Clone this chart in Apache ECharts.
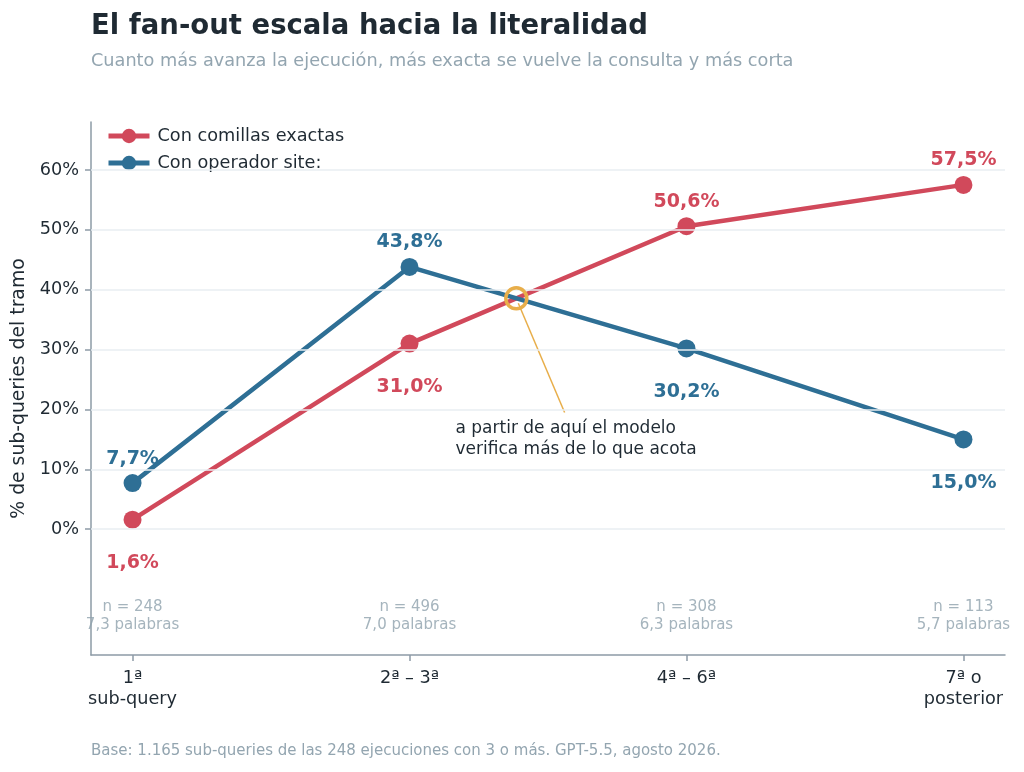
<!DOCTYPE html>
<html>
<head>
<meta charset="utf-8">
<title>El fan-out escala hacia la literalidad</title>
<script src="https://cdn.jsdelivr.net/npm/echarts@6/dist/echarts.min.js"></script>
<style>
    html, body {margin:0; padding:0; background:#ffffff;}
    #chart {width:1024px; height:772px;}
</style>
</head>
<body>
<div id="chart"></div>
<script>
// datos por tramo de sub-query
var tramos = ['1ª\nsub-query', '2ª – 3ª', '4ª – 6ª', '7ª o\nposterior'];
var comillas = [1.6, 31.0, 50.6, 57.5];
var site = [7.7, 43.8, 30.2, 15.0];
var nSub = [248, 496, 308, 113];
var palabras = [7.3, 7.0, 6.3, 5.7];
var yTicks = [0, 10, 20, 30, 40, 50, 60];

var ROJO = '#d1495b', AZUL = '#2e6f95', NARANJA = '#e8ae4a';
var OSCURO = '#1f2a33', GRIS = '#93a5b0', EJE = '#8d9ba6';
var FONT = 'DejaVu Sans';

function pct(v) { return v.toFixed(1).replace('.', ',') + '%'; }

// etiqueta arriba si la serie va por encima de la otra
function puntos(vals, otra) {
    return vals.map(function (v, i) {
        var arriba = v > otra[i];
        return {
            value: [i, v],
            label: {position: arriba ? 'top' : 'bottom', distance: arriba ? 6 : 25}
        };
    });
}

// cruce de las dos series
var cruce = null;
for (var i = 0; i < comillas.length - 1; i++) {
    var d0 = comillas[i] - site[i], d1 = comillas[i + 1] - site[i + 1];
    if (d0 < 0 && d1 >= 0) {
        var t = d0 / (d0 - d1);
        cruce = [i + t, comillas[i] + t * (comillas[i + 1] - comillas[i])];
        break;
    }
}

var myChart = echarts.init(document.getElementById('chart'));

var serieLinea = function (name, vals, otra, color) {
    return {
        name: name,
        type: 'line',
        data: puntos(vals, otra),
        color: color,
        symbol: 'circle',
        symbolSize: 18,
        z: 3,
        lineStyle: {width: 4.5, color: color},
        itemStyle: {color: color},
        label: {
            show: true,
            fontFamily: FONT, fontSize: 19, fontWeight: 'bold', color: color,
            formatter: function (p) { return pct(p.value[1]); }
        },
        emphasis: {disabled: true}
    };
};

var option = {
    backgroundColor: '#ffffff',
    animation: false,
    textStyle: {fontFamily: FONT},
    title: [{
        text: 'El fan-out escala hacia la literalidad',
        left: 91, top: 13, padding: 0,
        textStyle: {fontFamily: FONT, fontSize: 27.5, fontWeight: 'bold', color: OSCURO}
    }, {
        text: 'Cuanto más avanza la ejecución, más exacta se vuelve la consulta y más corta',
        left: 91, top: 52, padding: 0,
        textStyle: {fontFamily: FONT, fontSize: 17.7, fontWeight: 'normal', color: GRIS}
    }, {
        text: 'Base: 1.165 sub-queries de las 248 ejecuciones con 3 o más. GPT-5.5, agosto 2026.',
        left: 91, top: 744, padding: 0,
        textStyle: {fontFamily: FONT, fontSize: 15, fontWeight: 'normal', color: GRIS}
    }],
    legend: {
        orient: 'vertical',
        left: 106, top: 127, padding: 0,
        itemWidth: 41, itemHeight: 18, itemGap: 9,
        data: ['Con comillas exactas', 'Con operador site:'],
        lineStyle: {width: 5},
        textStyle: {fontFamily: FONT, fontSize: 17.7, color: OSCURO, padding: [0, 0, 0, 3]}
    },
    grid: {left: 91, right: 19, top: 122, bottom: 117},
    xAxis: {
        type: 'value',
        min: -0.15, max: 3.15,
        splitLine: {show: false},
        axisLine: {show: true, onZero: false, lineStyle: {color: EJE, width: 1.5}},
        axisTick: {show: true, customValues: [0, 1, 2, 3], length: 6, lineStyle: {color: EJE, width: 1.5}},
        axisLabel: {
            customValues: [0, 1, 2, 3],
            margin: 13,
            fontFamily: FONT, fontSize: 17.7, color: OSCURO, lineHeight: 21,
            formatter: function (v) { return tramos[Math.round(v)]; }
        }
    },
    yAxis: {
        type: 'value',
        min: -21, max: 68,
        name: '% de sub-queries del tramo',
        nameLocation: 'middle',
        nameGap: 62,
        nameTextStyle: {fontFamily: FONT, fontSize: 18.8, color: OSCURO},
        splitLine: {show: false},
        axisLine: {show: true, onZero: false, lineStyle: {color: EJE, width: 1.5}},
        axisTick: {show: true, customValues: yTicks, length: 6, lineStyle: {color: EJE, width: 1.5}},
        axisLabel: {
            customValues: yTicks,
            margin: 12,
            fontFamily: FONT, fontSize: 17.7, color: OSCURO,
            formatter: function (v) { return v + '%'; }
        }
    },
    series: [
        {
            // n y palabras por tramo, más las líneas de referencia
            type: 'scatter',
            silent: true,
            z: 1,
            symbolSize: 0,
            data: nSub.map(function (n, i) { return [i, -14.5]; }),
            label: {
                show: true,
                position: 'inside',
                fontFamily: FONT, fontSize: 15, color: '#8fa1ac', lineHeight: 18,
                formatter: function (p) {
                    var i = p.dataIndex;
                    return 'n = ' + nSub[i] + '\n' + palabras[i].toFixed(1).replace('.', ',') + ' palabras';
                }
            },
            markLine: {
                silent: true,
                symbol: 'none',
                label: {show: false},
                lineStyle: {color: '#e9eef2', width: 1.5, type: 'solid'},
                data: yTicks.map(function (v) { return {yAxis: v}; })
            }
        },
        serieLinea('Con comillas exactas', comillas, site, ROJO),
        serieLinea('Con operador site:', site, comillas, AZUL),
        {
            type: 'scatter',
            silent: true,
            z: 5,
            symbol: 'circle',
            symbolSize: 21,
            itemStyle: {color: 'rgba(255,255,255,0)', borderColor: NARANJA, borderWidth: 3.5, opacity: 1},
            data: [cruce]
        }
    ]
};

myChart.setOption(option, true);

// anotación del cruce
var pC = myChart.convertToPixel({gridIndex: 0}, cruce);
var pFin = myChart.convertToPixel({gridIndex: 0}, [1.56, 19.5]);
var pTxt = myChart.convertToPixel({gridIndex: 0}, [1.166, 15.0]);
myChart.setOption({
    graphic: [{
        type: 'line',
        z: 4,
        shape: {x1: pC[0] + 2, y1: pC[1] + 5, x2: pFin[0], y2: pFin[1]},
        style: {stroke: NARANJA, lineWidth: 1.5}
    }, {
        type: 'text',
        x: pTxt[0], y: pTxt[1],
        style: {
            text: 'a partir de aquí el modelo\nverifica más de lo que acota',
            font: '17px "DejaVu Sans"',
            fill: OSCURO,
            lineHeight: 21,
            verticalAlign: 'middle'
        }
    }]
});
</script>
</body>
</html>
